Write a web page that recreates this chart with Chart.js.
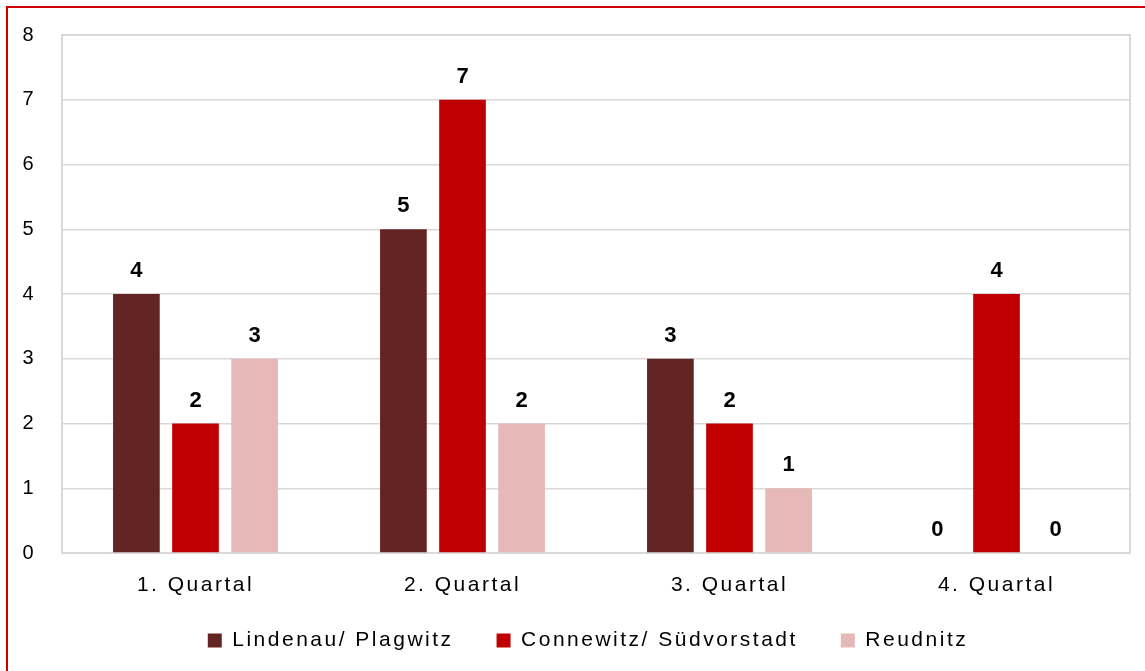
<!DOCTYPE html>
<html>
<head>
<meta charset="utf-8">
<script src="https://cdn.jsdelivr.net/npm/chart.js@4"></script>
<style>
  html, body { margin: 0; padding: 0; background: #ffffff; overflow: hidden; }
  #wrap { position: relative; width: 1145px; height: 671px; }
  #frame { position: absolute; left: 6px; top: 6px; width: 1400px; height: 900px;
           border-left: 2px solid #d00000; border-top: 2px solid #d00000; }
  canvas { position: absolute; left: 0; top: 0; }
</style>
</head>
<body>
<div id="wrap">
  <div id="frame"></div>
  <canvas id="c" width="1145" height="671"></canvas>
</div>
<script>
const categories = ["1. Quartal", "2. Quartal", "3. Quartal", "4. Quartal"];
const seriesNames = ["Lindenau/ Plagwitz", "Connewitz/ Südvorstadt", "Reudnitz"];
const lindenau = [4, 5, 3, 0];
const connewitz = [2, 7, 2, 4];
const reudnitz = [3, 2, 1, 0];
const yTicks = [0, 1, 2, 3, 4, 5, 6, 7, 8];
const colors = ["#632523", "#C00000", "#E6B9B8"];

const FONT = "'Liberation Sans', Arial, sans-serif";

const spacing = {
  id: 'spacing',
  beforeUpdate(chart) { chart.ctx.letterSpacing = '2.5px'; },
  beforeDraw(chart) { chart.ctx.letterSpacing = '2.5px'; }
};

const legendShift = {
  id: 'legendShift',
  afterLayout(chart) {
    const lg = chart.legend;
    lg.left += 23; lg.right += 23;
    lg.top -= 10; lg.bottom -= 10;
  }
};

const valueLabels = {
  id: 'valueLabels',
  afterDatasetsDraw(chart) {
    const ctx = chart.ctx;
    ctx.save();
    ctx.letterSpacing = '0px';
    ctx.font = "bold 22px " + FONT;
    ctx.fillStyle = "#000000";
    ctx.textAlign = "center";
    ctx.textBaseline = "alphabetic";
    chart.data.datasets.forEach((ds, di) => {
      const meta = chart.getDatasetMeta(di);
      meta.data.forEach((bar, i) => {
        ctx.fillText(String(ds.data[i]), bar.x, bar.y - 17);
      });
    });
    ctx.restore();
  }
};

const plotBorder = {
  id: 'plotBorder',
  beforeDatasetsDraw(chart) {
    const a = chart.chartArea, ctx = chart.ctx;
    ctx.save();
    ctx.strokeStyle = "#d9d9d9";
    ctx.lineWidth = 2;
    ctx.beginPath();
    ctx.moveTo(a.left, a.bottom);
    ctx.lineTo(a.left, a.top);
    ctx.lineTo(a.right, a.top);
    ctx.lineTo(a.right, a.bottom);
    ctx.stroke();
    ctx.restore();
  }
};

new Chart(document.getElementById('c'), {
  type: 'bar',
  data: {
    labels: categories,
    datasets: [
      { label: seriesNames[0], data: lindenau, backgroundColor: colors[0] },
      { label: seriesNames[1], data: connewitz, backgroundColor: colors[1] },
      { label: seriesNames[2], data: reudnitz, backgroundColor: colors[2] }
    ]
  },
  options: {
    responsive: false,
    animation: false,
    devicePixelRatio: 1,
    layout: { autoPadding: false, padding: { top: 35, right: 15, bottom: 0, left: 0 } },
    datasets: { bar: { categoryPercentage: 0.664, barPercentage: 0.79 } },
    plugins: {
      tooltip: { enabled: false },
      legend: {
        position: 'bottom',
        labels: {
          boxWidth: 14, boxHeight: 14, padding: 43,
          color: '#000000',
          font: { family: FONT, size: 21, lineHeight: 1 }
        }
      }
    },
    scales: {
      x: {
        grid: { display: false, drawTicks: false },
        border: { color: '#d9d9d9', width: 2 },
        ticks: { color: '#000000', padding: 20, font: { family: FONT, size: 21 } },
        afterFit(scale) { scale.height = 44; scale.paddingLeft = 0; scale.paddingRight = 0; }
      },
      y: {
        min: 0, max: 8,
        afterBuildTicks(scale) { scale.ticks = yTicks.map(v => ({ value: v })); },
        grid: { color: '#d9d9d9', lineWidth: 1.5, drawTicks: false },
        border: { color: '#d9d9d9', width: 2 },
        ticks: { color: '#000000', padding: 26, font: { family: FONT, size: 20 } },
        afterFit(scale) { scale.width = 62; scale.paddingTop = 0; scale.paddingBottom = 0; }
      }
    }
  },
  plugins: [spacing, legendShift, plotBorder, valueLabels]
});
</script>
</body>
</html>
